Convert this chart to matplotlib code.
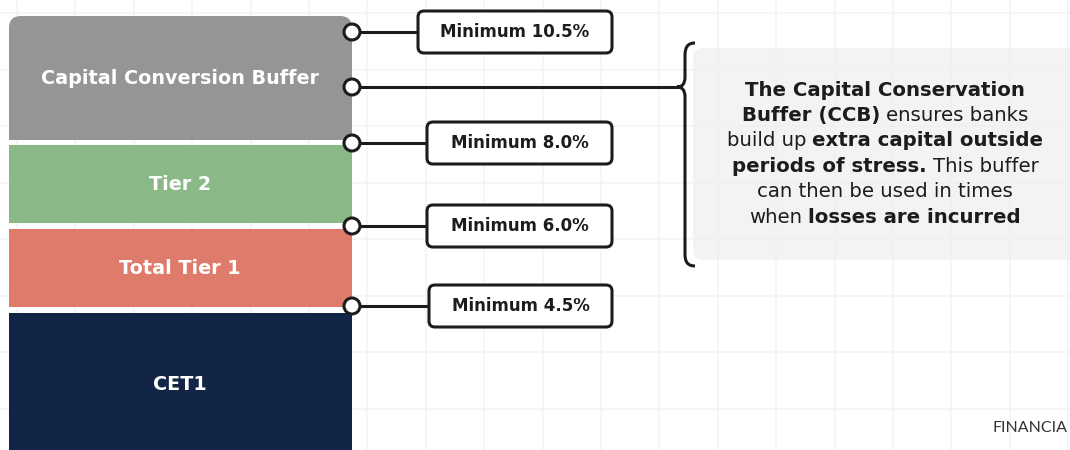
import matplotlib
matplotlib.use("Agg")
import matplotlib.pyplot as plt
from matplotlib.patches import FancyBboxPatch, Rectangle, Circle, PathPatch
from matplotlib.path import Path

# data
layers = ["Capital Conversion Buffer", "Tier 2", "Total Tier 1", "CET1"]
layer_colors = ["#959595", "#8ab887", "#de7b6b", "#122547"]
minimums = [10.5, 8.0, 6.0, 4.5]
note_lines = [
    [("The Capital Conservation", True)],
    [("Buffer (CCB)", True), (" ensures banks", False)],
    [("build up ", False), ("extra capital outside", True)],
    [("periods of stress.", True), (" This buffer", False)],
    [("can then be used in times", False)],
    [("when ", False), ("losses are incurred", True)],
]

# layout (pixels)
block_top = [16, 145, 229, 313]
block_bot = [140, 223, 307, 460]
block_text_y = [79, 184, 268, 385]
min_y = [32, 143, 226, 306]
min_box_left = [418, 427, 427, 429]
FONT = "DejaVu Sans"
INK = "#1c1c1c"

fig = plt.figure(figsize=(10.7, 4.5), dpi=100)
ax = fig.add_axes([0, 0, 1, 1])
ax.set_xlim(0, 1070)
ax.set_ylim(450, 0)
ax.axis("off")

# faint background grid
x = 17
while x < 1070:
    ax.axvline(x, color="#f4f4f4", lw=1.1, zorder=0)
    x += 58.4
y = 13
while y < 450:
    ax.axhline(y, color="#f4f4f4", lw=1.1, zorder=0)
    y += 56.5

# stacked blocks
for i, (name, col) in enumerate(zip(layers, layer_colors)):
    top, bot = block_top[i], block_bot[i]
    if i == 0:
        ax.add_patch(FancyBboxPatch((9, top), 343, bot - top, boxstyle="round,pad=0,rounding_size=12",
                                    fc=col, ec="none", zorder=2))
        ax.add_patch(Rectangle((9, top + 30), 343, bot - top - 30, fc=col, ec="none", zorder=2))
    else:
        ax.add_patch(Rectangle((9, top), 343, bot - top, fc=col, ec="none", zorder=2))
    ax.text(180, block_text_y[i], name, color="white", fontsize=13.8, fontweight="bold",
            family=FONT, ha="center", va="center", zorder=5)

# minimum callouts
for i, m in enumerate(minimums):
    yy = min_y[i]
    left = min_box_left[i]
    ax.plot([352, left], [yy, yy], color=INK, lw=2.2, zorder=3, solid_capstyle="butt")
    ax.add_patch(FancyBboxPatch((left, yy - 21), 612 - left, 42, boxstyle="round,pad=0,rounding_size=6",
                                fc="white", ec=INK, lw=2.2, zorder=4))
    ax.text((left + 612) / 2, yy, f"Minimum {m:.1f}%", color=INK, fontsize=12, fontweight="bold",
            family=FONT, ha="center", va="center", zorder=5)
    ax.add_patch(Circle((352, yy), 8, fc="white", ec=INK, lw=2.2, zorder=6))

# conservation buffer link + brace
ax.plot([352, 677], [87, 87], color=INK, lw=2.2, zorder=3)
ax.add_patch(Circle((352, 87), 8, fc="white", ec=INK, lw=2.2, zorder=6))
verts = [(695, 43), (687, 43), (685, 48), (685, 56), (685, 77),
         (685, 84), (682, 87), (677, 87),
         (682, 87), (685, 90), (685, 97), (685, 254),
         (685, 261), (687, 266), (695, 266)]
codes = [Path.MOVETO, Path.CURVE4, Path.CURVE4, Path.CURVE4, Path.LINETO,
         Path.CURVE4, Path.CURVE4, Path.CURVE4,
         Path.CURVE4, Path.CURVE4, Path.CURVE4, Path.LINETO,
         Path.CURVE4, Path.CURVE4, Path.CURVE4]
ax.add_patch(PathPatch(Path(verts, codes), fc="none", ec=INK, lw=2.2, zorder=4))

# note box
ax.add_patch(FancyBboxPatch((693, 48), 400, 212, boxstyle="round,pad=0,rounding_size=10",
                            fc="#efefef", ec="none", alpha=0.75, zorder=1))

fig.canvas.draw()
renderer = fig.canvas.get_renderer()
NOTE_FS = 14.2


def width_of(s, bold):
    t = ax.text(0, 0, s, fontsize=NOTE_FS, family=FONT, fontweight="bold" if bold else "normal")
    w = t.get_window_extent(renderer).width
    t.remove()
    return w


space = width_of("x x", False) - width_of("xx", False)
line_y = 90
for parts in note_lines:
    widths = []
    for s, b in parts:
        widths.append(width_of(s.strip(), b) + space * (len(s) - len(s.strip())))
    start = 885 - sum(widths) / 2
    for (s, b), w in zip(parts, widths):
        lead = space * (len(s) - len(s.lstrip()))
        ax.text(start + lead, line_y, s.strip(), fontsize=NOTE_FS, family=FONT, color=INK,
                fontweight="bold" if b else "normal", ha="left", va="center", zorder=5)
        start += w
    line_y += 25.4

ax.text(993, 428, "FINANCIA", fontsize=11.5, family="Lato", color="#333333",
        ha="left", va="center", zorder=5)

fig.savefig("out.png", dpi=100)
